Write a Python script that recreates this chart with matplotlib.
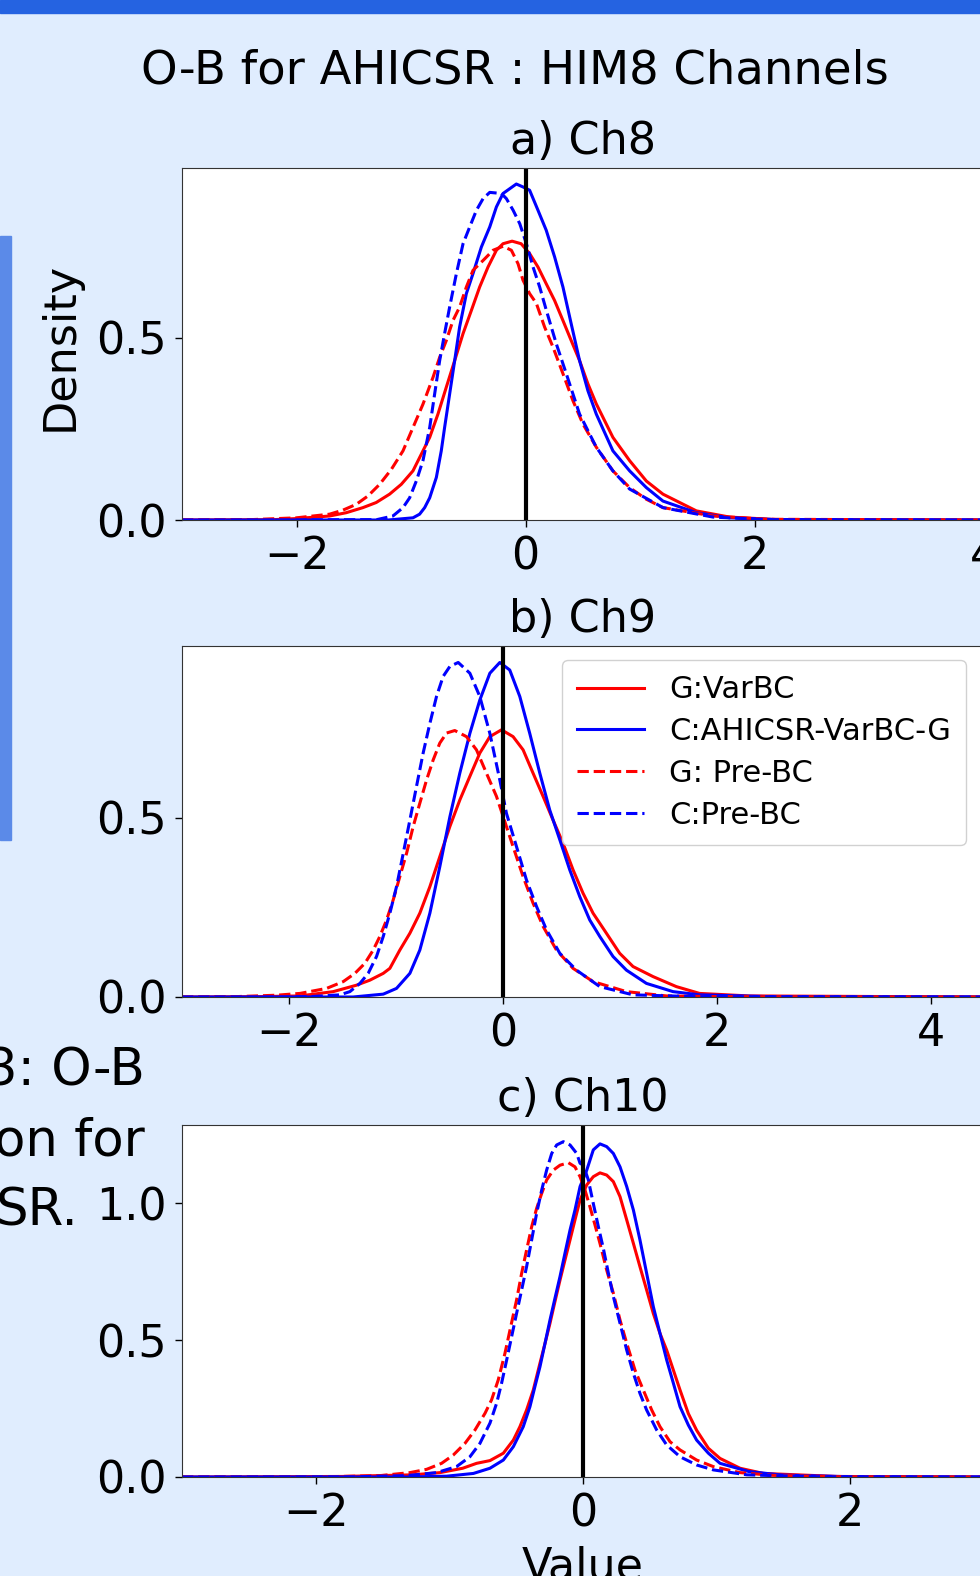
import matplotlib
matplotlib.use("Agg")
import matplotlib.pyplot as plt
from matplotlib.patches import Rectangle

# O-B density curves (value, density) per channel and experiment
ch8_gvarbc_x = [-3.0, -2.2, -2.0, -1.712, -1.567, -1.421, -1.305, -1.188, -1.086, -0.984, -0.911, -0.838,
                -0.766, -0.693, -0.62, -0.547, -0.474, -0.402, -0.329, -0.256, -0.198, -0.119, -0.04,
                0.034, 0.107, 0.179, 0.252, 0.325, 0.397, 0.47, 0.543, 0.616, 0.761, 0.907, 1.053,
                1.198, 1.49, 1.78, 2.2, 4.0]
ch8_gvarbc_y = [0.0, 0.001, 0.004, 0.011, 0.02, 0.034, 0.048, 0.071, 0.098, 0.135, 0.181, 0.227,
                0.291, 0.365, 0.438, 0.512, 0.576, 0.64, 0.695, 0.741, 0.759, 0.766, 0.759,
                0.732, 0.695, 0.649, 0.603, 0.548, 0.493, 0.438, 0.374, 0.319, 0.227, 0.163, 0.107,
                0.071, 0.025, 0.008, 0.001, 0.0]
ch8_cvarbc_x = [-3.0, -1.2, -0.984, -0.926, -0.882, -0.838, -0.78, -0.737, -0.708, -0.664, -0.62, -0.577,
                -0.518, -0.46, -0.387, -0.314, -0.256, -0.198, -0.082, -0.024, 0.034, 0.107, 0.179,
                0.252, 0.325, 0.397, 0.47, 0.543, 0.616, 0.761, 0.907, 1.053, 1.198, 1.49, 1.78, 2.2, 4.0]
ch8_cvarbc_y = [0.0, 0.0, 0.006, 0.016, 0.034, 0.061, 0.117, 0.19, 0.254, 0.346, 0.438, 0.53,
                0.622, 0.677, 0.75, 0.805, 0.86, 0.897, 0.923, 0.915, 0.906, 0.851, 0.796,
                0.723, 0.64, 0.539, 0.438, 0.355, 0.291, 0.19, 0.135, 0.089, 0.052, 0.02, 0.006, 0.001, 0.0]
ch8_gpre_x = [-3.0, -2.4, -2.0, -1.712, -1.596, -1.479, -1.377, -1.275, -1.173, -1.071, -0.984, -0.897,
              -0.809, -0.751, -0.693, -0.635, -0.577, -0.518, -0.46, -0.372, -0.285, -0.198, -0.125,
              -0.067, -0.024, 0.034, 0.093, 0.165, 0.238, 0.325, 0.412, 0.499, 0.616, 0.761, 0.907,
              1.053, 1.198, 1.635, 2.1, 4.0]
ch8_gpre_y = [0.0, 0.001, 0.006, 0.016, 0.027, 0.043, 0.066, 0.098, 0.139, 0.19, 0.254, 0.318,
              0.392, 0.447, 0.493, 0.548, 0.585, 0.64, 0.686, 0.713, 0.741, 0.752, 0.741,
              0.704, 0.659, 0.622, 0.595, 0.53, 0.475, 0.402, 0.328, 0.264, 0.2, 0.135, 0.089,
              0.057, 0.034, 0.011, 0.002, 0.0]
ch8_cpre_x = [-3.0, -1.3, -1.159, -1.071, -1.013, -0.955, -0.897, -0.838, -0.795, -0.751, -0.708, -0.664,
              -0.605, -0.547, -0.489, -0.43, -0.372, -0.314, -0.212, -0.169, -0.11, -0.052, 0.006,
              0.064, 0.122, 0.18, 0.267, 0.355, 0.47, 0.616, 0.761, 0.907, 1.198, 1.635, 2.1, 4.0]
ch8_cpre_y = [0.0, 0.001, 0.011, 0.034, 0.061, 0.107, 0.163, 0.254, 0.346, 0.438, 0.512, 0.585,
              0.677, 0.759, 0.805, 0.851, 0.883, 0.9, 0.897, 0.883, 0.851, 0.814, 0.759,
              0.695, 0.64, 0.576, 0.484, 0.401, 0.291, 0.2, 0.135, 0.085, 0.034, 0.008, 0.001, 0.0]

ch9_gvarbc_x = [-3.0, -2.3, -1.897, -1.586, -1.368, -1.243, -1.118, -1.056, -0.963, -0.869, -0.776,
                -0.682, -0.589, -0.495, -0.402, -0.308, -0.215, -0.121, -0.012, 0.096, 0.19, 0.283,
                0.377, 0.47, 0.564, 0.657, 0.75, 0.844, 0.969, 1.093, 1.218, 1.405, 1.623, 1.84, 2.3, 4.5]
ch9_gvarbc_y = [0.0, 0.001, 0.003, 0.015, 0.033, 0.047, 0.066, 0.08, 0.131, 0.178, 0.234,
                0.308, 0.392, 0.476, 0.55, 0.616, 0.681, 0.727, 0.746, 0.727, 0.69, 0.625,
                0.56, 0.494, 0.429, 0.355, 0.29, 0.234, 0.178, 0.122, 0.085, 0.057, 0.029, 0.01, 0.003, 0.0]
ch9_cvarbc_x = [-3.0, -1.4, -1.118, -0.994, -0.869, -0.776, -0.682, -0.589, -0.495, -0.402, -0.308,
                -0.215, -0.121, -0.028, 0.065, 0.159, 0.252, 0.346, 0.439, 0.533, 0.626, 0.72,
                0.813, 0.907, 1.031, 1.156, 1.343, 1.592, 1.84, 2.5, 4.5]
ch9_cvarbc_y = [0.0, 0.0, 0.008, 0.024, 0.066, 0.131, 0.234, 0.364, 0.503, 0.625, 0.736,
                0.829, 0.904, 0.934, 0.913, 0.839, 0.736, 0.625, 0.522, 0.439, 0.355, 0.28,
                0.215, 0.169, 0.113, 0.075, 0.038, 0.015, 0.006, 0.001, 0.0]
ch9_gpre_x = [-3.0, -2.5, -2.115, -1.897, -1.648, -1.492, -1.383, -1.29, -1.212, -1.15, -1.087,
              -1.025, -0.963, -0.9, -0.838, -0.776, -0.713, -0.651, -0.589, -0.526, -0.449, -0.34,
              -0.246, -0.153, -0.059, 0.003, 0.096, 0.19, 0.283, 0.377, 0.502, 0.657, 0.844, 1.156,
              1.53, 2.0, 4.5]
ch9_gpre_y = [0.0, 0.001, 0.005, 0.01, 0.024, 0.043, 0.066, 0.094, 0.131, 0.169, 0.215,
              0.271, 0.336, 0.401, 0.476, 0.541, 0.606, 0.662, 0.709, 0.737, 0.744, 0.727,
              0.69, 0.625, 0.56, 0.504, 0.42, 0.336, 0.262, 0.197, 0.131, 0.08, 0.043, 0.015,
              0.003, 0.001, 0.0]
ch9_cpre_x = [-3.0, -1.8, -1.523, -1.43, -1.336, -1.259, -1.181, -1.118, -1.056, -0.994, -0.931,
              -0.869, -0.807, -0.745, -0.682, -0.62, -0.558, -0.495, -0.417, -0.308, -0.215, -0.121,
              -0.028, 0.034, 0.128, 0.221, 0.315, 0.408, 0.533, 0.689, 0.907, 1.218, 1.8, 4.5]
ch9_cpre_y = [0.0, 0.001, 0.006, 0.015, 0.038, 0.066, 0.113, 0.169, 0.234, 0.308, 0.401,
              0.494, 0.588, 0.681, 0.764, 0.839, 0.895, 0.923, 0.934, 0.904, 0.839, 0.736,
              0.606, 0.513, 0.42, 0.327, 0.253, 0.188, 0.122, 0.075, 0.029, 0.006, 0.001, 0.0]

ch10_gvarbc_x = [-3.0, -1.8, -1.27, -1.07, -0.9, -0.796, -0.696, -0.596, -0.521, -0.472, -0.422,
                 -0.372, -0.322, -0.284, -0.247, -0.21, -0.172, -0.135, -0.097, -0.06, -0.022, 0.028,
                 0.077, 0.127, 0.177, 0.227, 0.277, 0.327, 0.377, 0.426, 0.476, 0.526, 0.576, 0.626,
                 0.676, 0.726, 0.788, 0.85, 0.938, 1.025, 1.175, 1.35, 1.9, 3.0]
ch10_gvarbc_y = [0.0, 0.002, 0.008, 0.016, 0.032, 0.05, 0.06, 0.087, 0.135, 0.184, 0.245,
                 0.318, 0.416, 0.489, 0.562, 0.641, 0.72, 0.793, 0.867, 0.94, 1.013, 1.068,
                 1.098, 1.112, 1.104, 1.08, 1.025, 0.94, 0.854, 0.769, 0.684, 0.598, 0.525, 0.464,
                 0.391, 0.318, 0.232, 0.171, 0.105, 0.068, 0.032, 0.013, 0.002, 0.0]
ch10_cvarbc_x = [-3.0, -1.3, -1.02, -0.82, -0.696, -0.596, -0.521, -0.447, -0.397, -0.36, -0.322,
                 -0.284, -0.247, -0.21, -0.172, -0.135, -0.097, -0.06, -0.022, 0.028, 0.077, 0.127,
                 0.177, 0.227, 0.277, 0.327, 0.377, 0.426, 0.476, 0.526, 0.576, 0.626, 0.676, 0.726,
                 0.788, 0.85, 0.938, 1.025, 1.24, 1.49, 2.0, 3.0]
ch10_cvarbc_y = [0.0, 0.0, 0.003, 0.013, 0.032, 0.062, 0.111, 0.184, 0.257, 0.33, 0.403,
                 0.489, 0.574, 0.653, 0.733, 0.818, 0.903, 0.976, 1.062, 1.122, 1.196, 1.218,
                 1.208, 1.183, 1.134, 1.062, 0.976, 0.867, 0.745, 0.623, 0.525, 0.428, 0.343, 0.257,
                 0.19, 0.135, 0.087, 0.05, 0.02, 0.007, 0.001, 0.0]
ch10_gpre_x = [-3.0, -1.9, -1.519, -1.295, -1.17, -1.058, -0.971, -0.883, -0.808, -0.733, -0.684,
               -0.634, -0.584, -0.541, -0.497, -0.459, -0.422, -0.384, -0.347, -0.309, -0.272, -0.222,
               -0.172, -0.109, -0.06, -0.022, 0.015, 0.052, 0.09, 0.127, 0.177, 0.227, 0.277, 0.327,
               0.389, 0.451, 0.514, 0.576, 0.651, 0.726, 0.85, 0.975, 1.175, 1.42, 1.9, 3.0]
ch10_gpre_y = [0.0, 0.001, 0.005, 0.016, 0.028, 0.05, 0.08, 0.123, 0.172, 0.233, 0.282,
               0.355, 0.452, 0.549, 0.647, 0.745, 0.83, 0.915, 0.982, 1.037, 1.086, 1.122,
               1.14, 1.149, 1.134, 1.098, 1.049, 0.988, 0.921, 0.854, 0.757, 0.672, 0.574, 0.489,
               0.391, 0.318, 0.245, 0.184, 0.129, 0.099, 0.062, 0.038, 0.016, 0.006, 0.001, 0.0]
ch10_cpre_x = [-3.0, -1.7, -1.32, -1.095, -0.946, -0.846, -0.771, -0.696, -0.646, -0.609, -0.571,
               -0.534, -0.497, -0.459, -0.422, -0.384, -0.347, -0.309, -0.272, -0.234, -0.197, -0.147,
               -0.097, -0.047, -0.022, 0.003, 0.04, 0.077, 0.115, 0.152, 0.19, 0.227, 0.277, 0.327,
               0.377, 0.426, 0.476, 0.551, 0.626, 0.726, 0.85, 0.975, 1.225, 1.7, 3.0]
ch10_cpre_y = [0.0, 0.001, 0.005, 0.016, 0.038, 0.074, 0.123, 0.197, 0.27, 0.343, 0.428,
               0.513, 0.598, 0.684, 0.769, 0.867, 0.964, 1.049, 1.122, 1.183, 1.214, 1.226,
               1.214, 1.183, 1.147, 1.14, 1.086, 1.0, 0.915, 0.836, 0.745, 0.66, 0.562, 0.464,
               0.379, 0.306, 0.245, 0.172, 0.117, 0.074, 0.044, 0.026, 0.008, 0.001, 0.0]

labels = ["G:VarBC", "C:AHICSR-VarBC-G", "G: Pre-BC", "C:Pre-BC"]
colors = ["red", "blue", "red", "blue"]
styles = ["-", "-", "--", "--"]

panels = [
    ("a) Ch8", [(ch8_gvarbc_x, ch8_gvarbc_y), (ch8_cvarbc_x, ch8_cvarbc_y),
                (ch8_gpre_x, ch8_gpre_y), (ch8_cpre_x, ch8_cpre_y)],
     (-3, 4), 0.967, [-2, 0, 2, 4], [0.0, 0.5]),
    ("b) Ch9", [(ch9_gvarbc_x, ch9_gvarbc_y), (ch9_cvarbc_x, ch9_cvarbc_y),
                (ch9_gpre_x, ch9_gpre_y), (ch9_cpre_x, ch9_cpre_y)],
     (-3, 4.5), 0.98, [-2, 0, 2, 4], [0.0, 0.5]),
    ("c) Ch10", [(ch10_gvarbc_x, ch10_gvarbc_y), (ch10_cvarbc_x, ch10_cvarbc_y),
                 (ch10_gpre_x, ch10_gpre_y), (ch10_cpre_x, ch10_cpre_y)],
     (-3, 3), 1.287, [-2, 0, 2], [0.0, 0.5, 1.0]),
]

W, H = 980, 1576
bg = "#e0edfe"
fig = plt.figure(figsize=(W / 100, H / 100), dpi=100, facecolor=bg)

# poster decorations around the figure
fig.patches.append(Rectangle((0, 1 - 13 / H), 1, 13 / H, transform=fig.transFigure,
                             color="#2563e1", zorder=0))
fig.patches.append(Rectangle((0, 1 - 840 / H), 11 / W, 604 / H, transform=fig.transFigure,
                             color="#5b8ae8", zorder=0))

# axes boxes in pixel rows (top, bottom)
rows = [(168, 520), (646, 997), (1125, 1477)]
left, right = 182, 984

for (title, curves, xlim, ytop, xt, yt), (top, bot) in zip(panels, rows):
    ax = fig.add_axes([left / W, 1 - bot / H, (right - left) / W, (bot - top) / H])
    ax.set_facecolor("white")
    for (x, y), c, ls, lab in zip(curves, colors, styles, labels):
        ax.plot(x, y, color=c, linestyle=ls, linewidth=2.2, label=lab)
    ax.axvline(0, color="black", linewidth=3)
    ax.set_xlim(*xlim)
    ax.set_ylim(0, ytop)
    ax.set_xticks(xt)
    ax.set_yticks(yt)
    ax.tick_params(labelsize=32, length=5, width=1, pad=6)
    ax.set_title(title, fontsize=32, pad=10)
    for s in ax.spines.values():
        s.set_color("#333333")
    if title.startswith("b"):
        ax.legend(loc="upper right", bbox_to_anchor=(966 / W, 1 - 660 / H),
                  bbox_transform=fig.transFigure, borderaxespad=0, fontsize=22,
                  handlelength=2.2, labelspacing=0.42, borderpad=0.5, framealpha=0.9)

fig.text(515 / W, 1 - 83 / H, "O-B for AHICSR : HIM8 Channels", fontsize=33.5,
         ha="center", va="baseline")
fig.text(60 / W, 1 - 346 / H, "Density", fontsize=32, rotation=90, ha="center", va="center")
fig.text(583 / W, 1 - 1579 / H, "Value", fontsize=32, ha="center", va="baseline")

# caption text of the poster panel on the left
fig.text(145 / W, 1 - 1085 / H, "3: O-B", fontsize=37, ha="right", va="baseline")
fig.text(145 / W, 1 - 1155 / H, "on for", fontsize=37, ha="right", va="baseline")
fig.text(78 / W, 1 - 1225 / H, "SR.", fontsize=37, ha="right", va="baseline")

fig.savefig("out.png", dpi=100, facecolor=bg)
